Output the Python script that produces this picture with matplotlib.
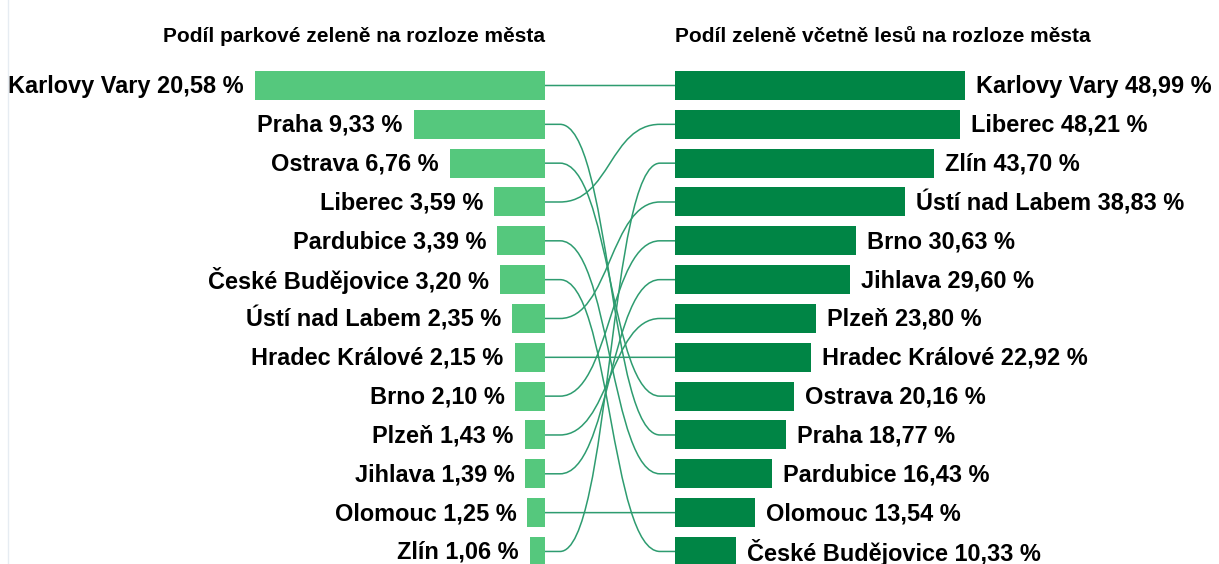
import matplotlib.pyplot as plt
from matplotlib.path import Path
from matplotlib.patches import PathPatch

plt.rcParams['font.family'] = ['Liberation Sans', 'DejaVu Sans']

# ─── Data ─────────────────────────────────────────────────────────────────────

park_cities = ['Karlovy Vary', 'Praha', 'Ostrava', 'Liberec', 'Pardubice',
               'České Budějovice', 'Ústí nad Labem', 'Hradec Králové', 'Brno',
               'Plzeň', 'Jihlava', 'Olomouc', 'Zlín']
park_values = [20.58, 9.33, 6.76, 3.59, 3.39, 3.20, 2.35, 2.15, 2.10,
               1.43, 1.39, 1.25, 1.06]

forest_cities = ['Karlovy Vary', 'Liberec', 'Zlín', 'Ústí nad Labem', 'Brno',
                 'Jihlava', 'Plzeň', 'Hradec Králové', 'Ostrava', 'Praha',
                 'Pardubice', 'Olomouc', 'České Budějovice']
forest_values = [48.99, 48.21, 43.70, 38.83, 30.63, 29.60, 23.80, 22.92,
                 20.16, 18.77, 16.43, 13.54, 10.33]

title_left = 'Podíl parkové zeleně na rozloze města'
title_right = 'Podíl zeleně včetně lesů na rozloze města'

# ─── Layout (pixel space of the figure) ───────────────────────────────────────

W, H = 1219, 564
left_edge = 545
right_edge = 675
max_len = 290
row0 = 85.5
row_step = 38.83
bar_h = 29

c_left = '#55c87d'
c_right = '#008545'
c_line = '#2e9c70'

fig = plt.figure(figsize=(W / 100, H / 100), dpi=100)
ax = fig.add_axes([0, 0, 1, 1])
ax.set_xlim(0, W)
ax.set_ylim(H, 0)
ax.axis('off')

sl = max_len / max(park_values)
sr = max_len / max(forest_values)

ys = [row0 + i * row_step for i in range(len(park_cities))]

# ─── Bars ─────────────────────────────────────────────────────────────────────

ax.barh(ys, [-v * sl for v in park_values], left=left_edge, height=bar_h,
        color=c_left, zorder=3)
ax.barh(ys, [v * sr for v in forest_values], left=right_edge, height=bar_h,
        color=c_right, zorder=3)

fmt = lambda v: f'{v:.2f}'.replace('.', ',') + ' %'

for y, name, v in zip(ys, park_cities, park_values):
    ax.text(left_edge - v * sl - 11, y + 1, f'{name} {fmt(v)}', ha='right',
            va='center', fontsize=16.9, fontweight='bold', color='black')

for y, name, v in zip(ys, forest_cities, forest_values):
    ax.text(right_edge + v * sr + 11, y + 1, f'{name} {fmt(v)}', ha='left',
            va='center', fontsize=16.9, fontweight='bold', color='black')

# ─── Connectors ───────────────────────────────────────────────────────────────

stub = 15
x0, x1 = left_edge + stub, right_edge - stub
xm = (x0 + x1) / 2
for i, name in enumerate(park_cities):
    yl = ys[i]
    yr = ys[forest_cities.index(name)]
    verts = [(left_edge, yl), (x0, yl), (xm, yl), (xm, yr), (x1, yr), (right_edge, yr)]
    codes = [Path.MOVETO, Path.LINETO, Path.CURVE4, Path.CURVE4, Path.CURVE4, Path.LINETO]
    ax.add_patch(PathPatch(Path(verts, codes), fill=False, edgecolor=c_line,
                           linewidth=1.1, zorder=2))

# ─── Titles ───────────────────────────────────────────────────────────────────

ax.text(left_edge, 36, title_left, ha='right', va='center', fontsize=15,
        fontweight='bold', color='black')
ax.text(right_edge, 36, title_right, ha='left', va='center', fontsize=15,
        fontweight='bold', color='black')

ax.axvline(8, color='#e6ecf2', linewidth=1.0, zorder=1)

fig.savefig('out.png', dpi=100)
